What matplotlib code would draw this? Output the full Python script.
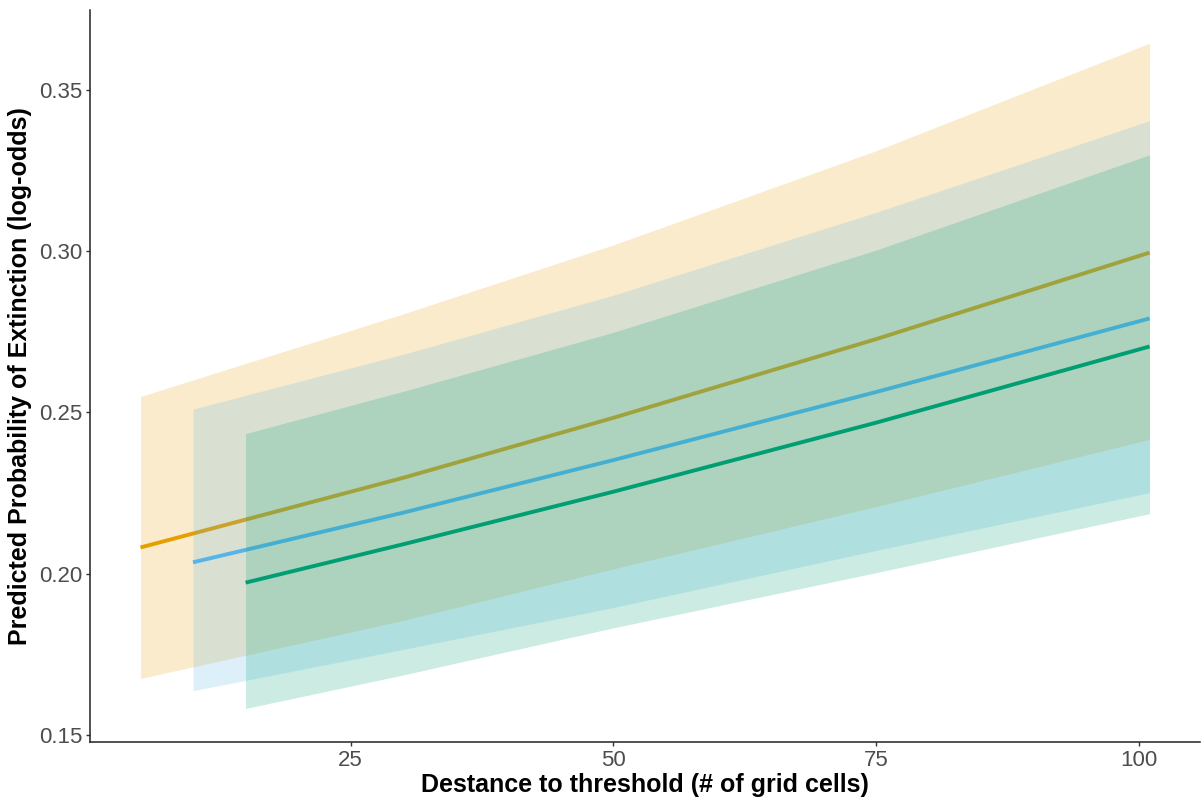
import matplotlib
matplotlib.use("Agg")
import matplotlib.pyplot as plt

# ---- data ----
orange_x = [5, 30, 50, 75, 101]
orange_fit = [0.2081, 0.2297, 0.2483, 0.2727, 0.2995]
orange_upper = [0.2549, 0.2805, 0.3019, 0.3311, 0.3644]
orange_lower = [0.1675, 0.1855, 0.2015, 0.2208, 0.2416]

blue_x = [10, 30, 50, 75, 101]
blue_fit = [0.2035, 0.2189, 0.2352, 0.2563, 0.2791]
blue_upper = [0.2510, 0.2680, 0.2863, 0.3120, 0.3404]
blue_lower = [0.1637, 0.1765, 0.1895, 0.2072, 0.2251]

green_x = [15, 30, 50, 75, 101]
green_fit = [0.1972, 0.2091, 0.2254, 0.2468, 0.2704]
green_upper = [0.2434, 0.2565, 0.2748, 0.3003, 0.3298]
green_lower = [0.1582, 0.1686, 0.1832, 0.2003, 0.2186]

x_ticks = [25, 50, 75, 100]
y_ticks = [0.15, 0.20, 0.25, 0.30, 0.35]
y_tick_labels = ["0.15", "0.20", "0.25", "0.30", "0.35"]

x_title = "Destance to threshold (# of grid cells)"
y_title = "Predicted Probability of Extinction (log-odds)"

series = [
    (orange_x, orange_fit, orange_lower, orange_upper, "#E69F00"),
    (blue_x, blue_fit, blue_lower, blue_upper, "#56B4E9"),
    (green_x, green_fit, green_lower, green_upper, "#009E73"),
]

plt.rcParams['font.family'] = ['Liberation Sans', 'DejaVu Sans']

fig = plt.figure(figsize=(12.03, 8.0), dpi=100)
ax = fig.add_axes([90 / 1203, 58.3 / 800, 1110 / 1203, 731.7 / 800])

z = 1
for xs, fit, lo, hi, col in series:
    ax.fill_between(xs, lo, hi, color=col, alpha=0.2, linewidth=0, zorder=z)
    ax.plot(xs, fit, color=col, linewidth=2.8, zorder=z + 1, solid_capstyle='butt')
    z += 2

ax.set_xlim(0.2, 105.8)
ax.set_ylim(0.1479, 0.3747)
ax.set_xticks(x_ticks)
ax.set_xticklabels([str(t) for t in x_ticks])
ax.set_yticks(y_ticks)
ax.set_yticklabels(y_tick_labels)

for s in ["top", "right"]:
    ax.spines[s].set_visible(False)
for s in ["left", "bottom"]:
    ax.spines[s].set_color("#222222")
    ax.spines[s].set_linewidth(1.1)

ax.tick_params(axis='both', length=3.2, width=1.0, color="#333333",
               labelcolor="#4D4D4D", labelsize=16, pad=2.5)

ax.set_xlabel(x_title, fontsize=18, fontweight='bold', color='black', labelpad=2)
ax.set_ylabel(y_title, fontsize=18, fontweight='bold', color='black', labelpad=5)

fig.savefig("out.png", dpi=100)
